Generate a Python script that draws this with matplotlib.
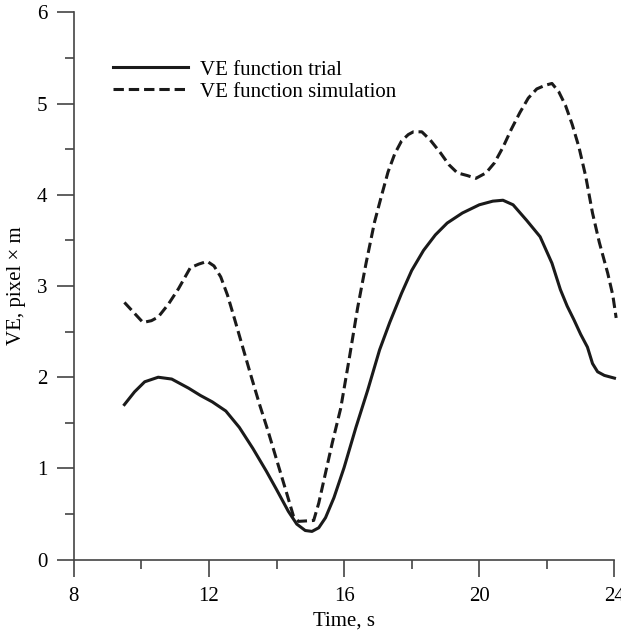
import matplotlib.pyplot as plt
from matplotlib.ticker import MultipleLocator

plt.rcParams['font.family'] = ['Liberation Serif', 'DejaVu Serif']
plt.rcParams['font.size'] = 15

# VE function, trial
t_trial = [9.5, 9.8, 10.1, 10.5, 10.9, 11.4, 11.75, 12.1, 12.5, 12.9, 13.3, 13.7,
           14.0, 14.35, 14.6, 14.85, 15.05, 15.25, 15.45, 15.7, 16.0, 16.35, 16.7,
           17.05, 17.35, 17.7, 18.0, 18.35, 18.7, 19.05, 19.5, 20.0, 20.4, 20.7,
           21.0, 21.4, 21.8, 22.15, 22.4, 22.6, 22.8, 23.0, 23.2, 23.35, 23.5,
           23.7, 24.0]
ve_trial = [1.70, 1.84, 1.95, 2.00, 1.98, 1.88, 1.80, 1.73, 1.63, 1.45, 1.22, 0.97,
            0.77, 0.53, 0.39, 0.32, 0.31, 0.35, 0.46, 0.68, 1.01, 1.45, 1.86,
            2.30, 2.60, 2.92, 3.17, 3.39, 3.56, 3.69, 3.80, 3.89, 3.93, 3.94,
            3.89, 3.72, 3.54, 3.25, 2.96, 2.78, 2.63, 2.47, 2.33, 2.15, 2.06,
            2.02, 1.99]

# VE function, simulation
t_sim = [9.5, 9.8, 10.05, 10.3, 10.5, 10.8, 11.1, 11.45, 11.7, 11.95, 12.15, 12.35,
         12.55, 12.75, 13.0, 13.25, 13.5, 13.75, 14.0, 14.3, 14.5, 14.65, 15.1,
         15.25, 15.45, 15.65, 15.9, 16.15, 16.4, 16.65, 16.9, 17.1, 17.3, 17.5,
         17.7, 17.9, 18.05, 18.3, 18.55, 18.85, 19.1, 19.35, 19.65, 19.9, 20.2,
         20.45, 20.7, 20.95, 21.2, 21.45, 21.7, 21.95, 22.15, 22.35, 22.55, 22.75,
         22.95, 23.15, 23.35, 23.55, 23.8, 23.95, 24.05]
ve_sim = [2.82, 2.70, 2.60, 2.62, 2.66, 2.80, 2.97, 3.20, 3.24, 3.27, 3.22, 3.10,
          2.90, 2.65, 2.33, 2.01, 1.70, 1.41, 1.10, 0.73, 0.48, 0.42, 0.43,
          0.62, 0.95, 1.28, 1.66, 2.20, 2.76, 3.25, 3.70, 3.98, 4.25, 4.45,
          4.59, 4.66, 4.69, 4.69, 4.60, 4.46, 4.33, 4.24, 4.21, 4.18, 4.24,
          4.35, 4.52, 4.72, 4.90, 5.06, 5.16, 5.20, 5.22, 5.13, 4.98, 4.77,
          4.52, 4.20, 3.80, 3.48, 3.14, 2.90, 2.65]

fig = plt.figure(figsize=(6.21, 6.34), dpi=100)
ax = fig.add_axes([0.1187, 0.1172, 0.8708, 0.8634])

ax.plot(t_trial, ve_trial, color='#1a1a1a', lw=2.2, label='VE function trial',
        solid_joinstyle='round', clip_on=False)
ax.plot(t_sim, ve_sim, color='#1a1a1a', lw=2.2, linestyle=(0, (3.4, 1.6)),
        dash_joinstyle='round', label='VE function simulation', clip_on=False)

ax.set_xlim(8, 24)
ax.set_ylim(0, 6)
ax.xaxis.set_major_locator(MultipleLocator(4))
ax.xaxis.set_minor_locator(MultipleLocator(2))
ax.yaxis.set_major_locator(MultipleLocator(1))
ax.yaxis.set_minor_locator(MultipleLocator(0.5))

for s in ['top', 'right']:
    ax.spines[s].set_visible(False)
for s in ['left', 'bottom']:
    ax.spines[s].set_color('#444444')
    ax.spines[s].set_linewidth(1.2)

ax.tick_params(which='major', direction='out', length=12, width=1.2, color='#444444', pad=7)
ax.tick_params(which='minor', direction='out', length=6.5, width=1.2, color='#444444')
ax.tick_params(axis='x', which='major', pad=8)

ax.set_xlabel('Time, s', labelpad=4)
ax.set_ylabel('VE, pixel × m', labelpad=8)

ax.legend(loc='upper left', bbox_to_anchor=(0.072, 0.913), frameon=False,
          handlelength=3.6, handletextpad=0.6, labelspacing=0.12, borderpad=0,
          borderaxespad=0)

fig.savefig('out.png', dpi=100)
